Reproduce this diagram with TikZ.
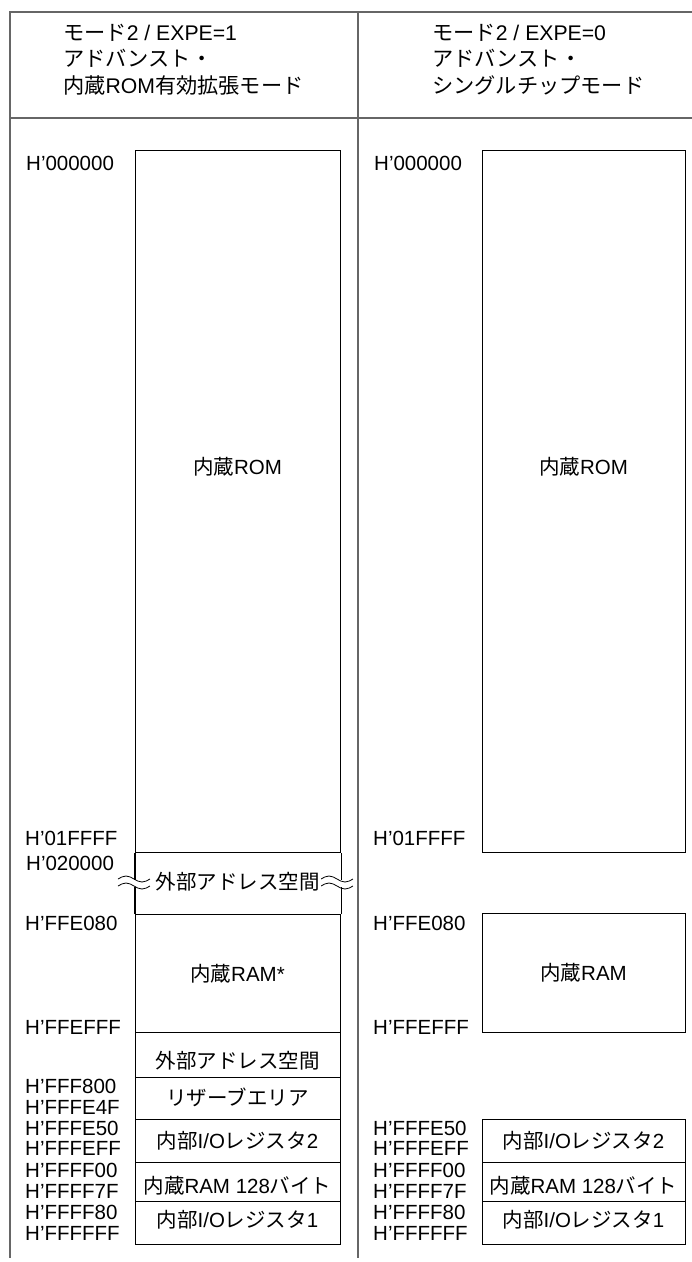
\documentclass[tikz,border=0pt]{standalone}
\usepackage{fontspec}
\setmainfont{Liberation Sans}
\newfontfamily\jpf{Noto Sans CJK JP}
\newcommand\J[1]{{\jpf #1}}
\newcommand\fs{\fontsize{20.5}{27}\selectfont}
\newcommand\tfs{\fontsize{21.2}{26.5}\selectfont}
\begin{document}
\begin{tikzpicture}[x=1pt,y=-1pt,
  frame/.style={draw=black!60, line width=1.3pt},
  mbox/.style={draw=black, line width=1.1pt, inner sep=0pt, anchor=north west},
  lbl/.style={inner sep=0pt, font=\fs},
  ttl/.style={inner sep=0pt, font=\tfs, anchor=west, align=left},
  addr/.style={lbl, anchor=west},
  wave/.style={draw=black, line width=0.8pt},
]
\fill[white] (0,0) rectangle (692,1262);
\useasboundingbox (0,0) rectangle (692,1262);
% frame
\draw[frame] (692,12) -- (10,12) -- (10,1258);
\draw[frame] (10,118) -- (692,118);
\draw[frame] (358,12) -- (358,1258);
% titles
\node[ttl] (t1) at (63,59.5) {\J{モード}2 / EXPE=1\\\J{アドバンスト・}\\\J{内蔵}ROM\J{有効拡張モード}};
\node[ttl] (t2) at (432,59.5) {\J{モード}2 / EXPE=0\\\J{アドバンスト・}\\\J{シングルチップモード}};
% ---- left column boxes
\node[mbox, minimum width=205pt, minimum height=702pt] (lrom) at (135,150) {};
\node[mbox, minimum width=205pt, minimum height=118pt] (lram) at (135,914) {};
\node[mbox, minimum width=205pt, minimum height=45pt] (lext2) at (135,1032) {};
\node[mbox, minimum width=205pt, minimum height=42pt] (lres) at (135,1077) {};
\node[mbox, minimum width=205pt, minimum height=43pt] (lio2) at (135,1119) {};
\node[mbox, minimum width=205pt, minimum height=39pt] (lram2) at (135,1162) {};
\node[mbox, minimum width=205pt, minimum height=43pt] (lio1) at (135,1201) {};
% broken external area sides
\draw[black, line width=1.1pt] (lrom.south west) -- ++(0,27) coordinate (lbw1);
\draw[black, line width=1.1pt] (lram.north west) -- ++(0,-27) coordinate (lbw2);
\draw[black, line width=1.1pt] (lrom.south east) -- ++(0,27) coordinate (lbe1);
\draw[black, line width=1.1pt] (lram.north east) -- ++(0,-27) coordinate (lbe2);
% wavy break marks
\foreach \xx in {118,321}{
  \draw[wave] (\xx,879) sin (\xx+8,876) cos (\xx+16,879) sin (\xx+24,882) cos (\xx+32,879);
  \draw[wave] (\xx,886) sin (\xx+8,883) cos (\xx+16,886) sin (\xx+24,889) cos (\xx+32,886);
}
% left texts
\node[lbl] (lromt) at (237.5,467) {\J{内蔵}ROM};
\node[lbl, fill=white, inner xsep=1pt] (lext1t) at (237.5,882) {\J{外部アドレス空間}};
\node[lbl] (lramt) at (237.5,974) {\J{内蔵}RAM*};
\node[lbl] (lext2t) at (237.5,1061) {\J{外部アドレス空間}};
\node[lbl] (lrest) at (237.5,1097) {\J{リザーブエリア}};
\node[lbl] (lio2t) at (237.5,1141) {\J{内部}I/O\J{レジスタ}2};
\node[lbl] (lram2t) at (237.5,1186) {\J{内蔵}RAM 128\J{バイト}};
\node[lbl] (lio1t) at (237.5,1220) {\J{内部}I/O\J{レジスタ}1};
% left addresses
\node[addr] (la1) at (26,163) {H’000000};
\node[addr] (la2) at (25,838) {H’01FFFF};
\node[addr] (la3) at (26,863) {H’020000};
\node[addr] (la4) at (25,923) {H’FFE080};
\node[addr] (la5) at (25,1027) {H’FFEFFF};
\node[addr] (la6) at (25,1086) {H’FFF800};
\node[addr] (la7) at (25,1107) {H’FFFE4F};
\node[addr] (la8) at (25,1128) {H’FFFE50};
\node[addr] (la9) at (25,1148) {H’FFFEFF};
\node[addr] (la10) at (25,1170) {H’FFFF00};
\node[addr] (la11) at (25,1191) {H’FFFF7F};
\node[addr] (la12) at (25,1212) {H’FFFF80};
\node[addr] (la13) at (25,1233) {H’FFFFFF};
% ---- right column boxes
\node[mbox, minimum width=203pt, minimum height=702pt] (rrom) at (482,150) {};
\node[mbox, minimum width=203pt, minimum height=119pt] (rram) at (482,913) {};
\node[mbox, minimum width=203pt, minimum height=43pt] (rio2) at (482,1119) {};
\node[mbox, minimum width=203pt, minimum height=39pt] (rram2) at (482,1162) {};
\node[mbox, minimum width=203pt, minimum height=43pt] (rio1) at (482,1201) {};
% right texts
\node[lbl] (rromt) at (583.5,467) {\J{内蔵}ROM};
\node[lbl] (rramt) at (583.5,973) {\J{内蔵}RAM};
\node[lbl] (rio2t) at (583.5,1141) {\J{内部}I/O\J{レジスタ}2};
\node[lbl] (rram2t) at (583.5,1186) {\J{内蔵}RAM 128\J{バイト}};
\node[lbl] (rio1t) at (583.5,1220) {\J{内部}I/O\J{レジスタ}1};
% right addresses
\node[addr] (ra1) at (374,163) {H’000000};
\node[addr] (ra2) at (373,838) {H’01FFFF};
\node[addr] (ra4) at (373,923) {H’FFE080};
\node[addr] (ra5) at (373,1027) {H’FFEFFF};
\node[addr] (ra8) at (373,1128) {H’FFFE50};
\node[addr] (ra9) at (373,1148) {H’FFFEFF};
\node[addr] (ra10) at (373,1170) {H’FFFF00};
\node[addr] (ra11) at (373,1191) {H’FFFF7F};
\node[addr] (ra12) at (373,1212) {H’FFFF80};
\node[addr] (ra13) at (373,1233) {H’FFFFFF};
\end{tikzpicture}
\end{document}
